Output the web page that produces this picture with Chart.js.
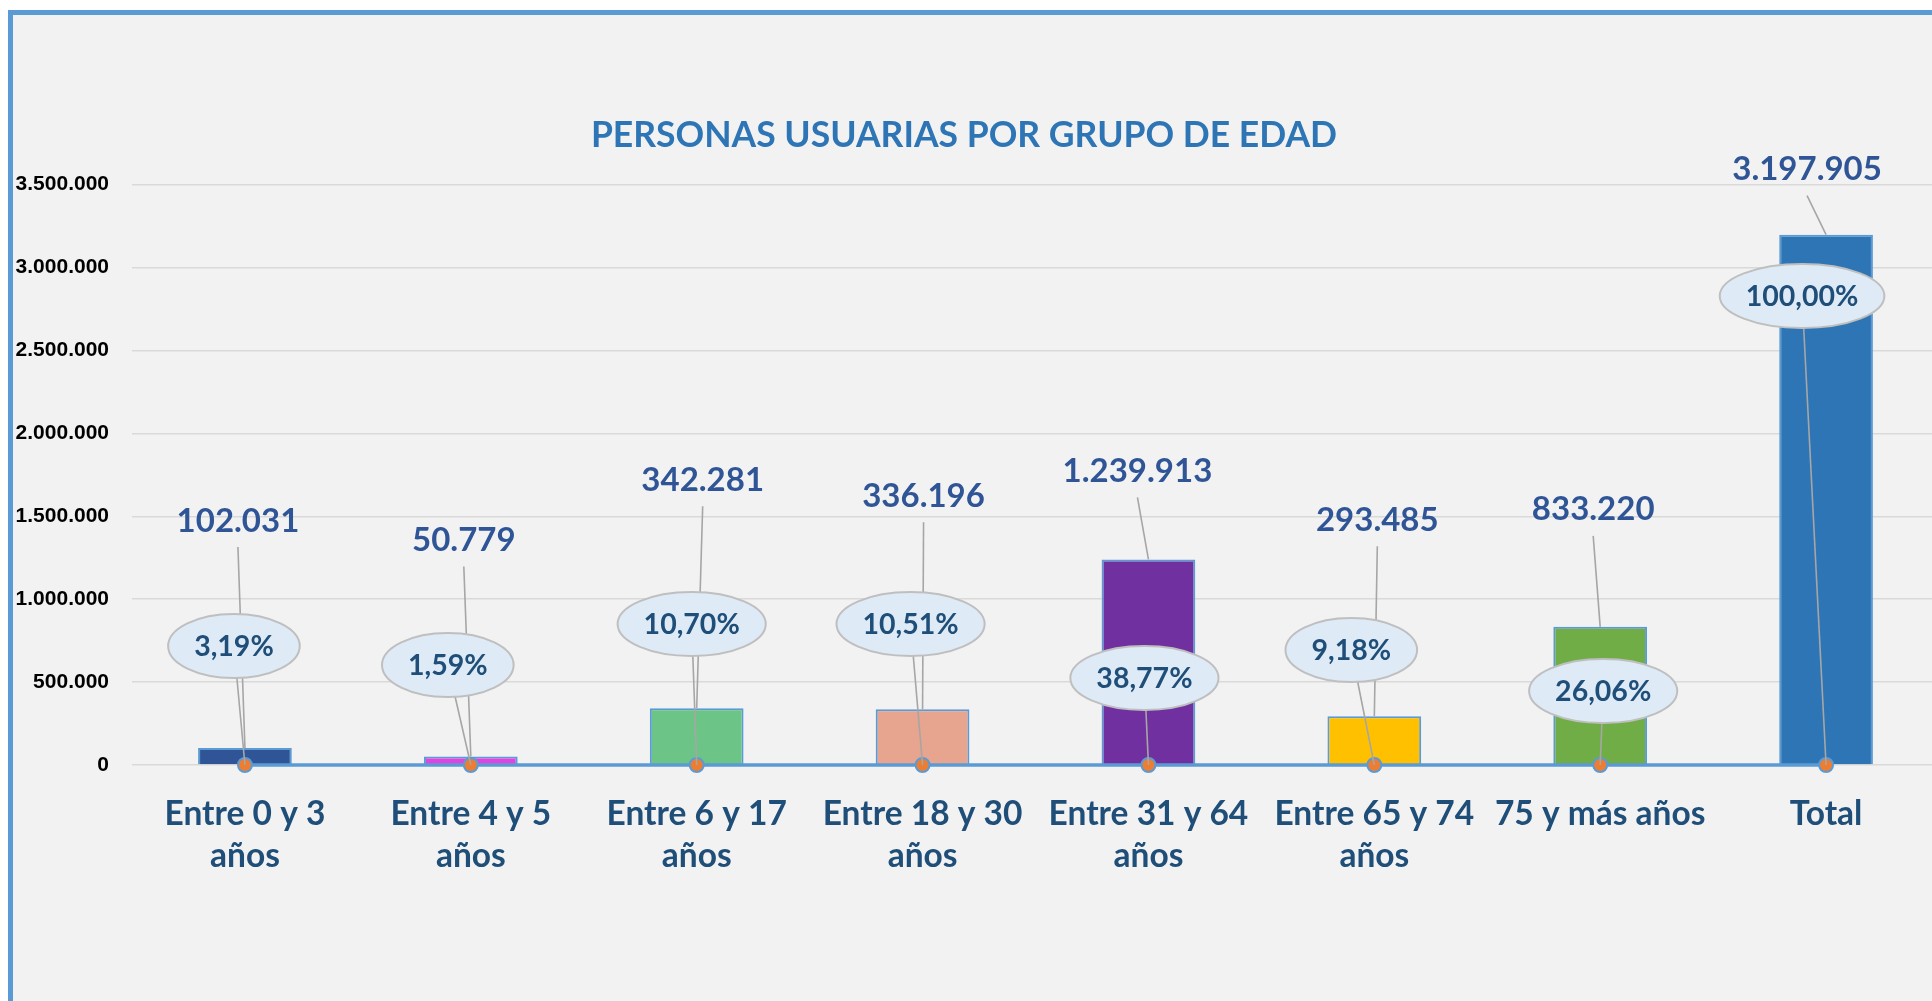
<!DOCTYPE html>
<html lang="es">
<head>
<meta charset="utf-8">
<title>Personas usuarias por grupo de edad</title>
<script src="https://cdn.jsdelivr.net/npm/chart.js@4.4.1/dist/chart.umd.min.js"></script>
<style>
  html, body { margin: 0; padding: 0; background: #FFFFFF; overflow: hidden; width: 1932px; height: 1001px; }
  #frame { position: absolute; left: 8px; top: 10px; width: 1930px; height: 1000px;
           background: #F2F2F2; border-left: 5px solid #5B9BD5; border-top: 5px solid #5B9BD5; }
  #chart { position: absolute; left: 0; top: 0; z-index: 2; }
</style>
</head>
<body>
<div id="frame"></div>
<canvas id="chart" width="1948" height="1001" style="width:1948px;height:1001px;"></canvas>
<script>
// ---- data ----
const categories = [
  ['Entre 0 y 3', 'años'],
  ['Entre 4 y 5', 'años'],
  ['Entre 6 y 17', 'años'],
  ['Entre 18 y 30', 'años'],
  ['Entre 31 y 64', 'años'],
  ['Entre 65 y 74', 'años'],
  '75 y más años',
  'Total'
];
const values = [102031, 50779, 342281, 336196, 1239913, 293485, 833220, 3197905];
const percentages = [3.19, 1.59, 10.70, 10.51, 38.77, 9.18, 26.06, 100.00];
const yTickMax = 3500000;
const yTickStep = 500000;
const chartTitle = 'PERSONAS USUARIAS POR GRUPO DE EDAD';

// ---- styles / label placement ----
const barColors = ['#2F5597', '#E044E0', '#6CC586', '#E7A48E', '#7030A0', '#FFC000', '#70AD47', '#2E75B6'];
// value label offset from bar top-centre (px)
const valueLabelOffset = [[-7,-227],[-7,-216],[6,-228],[1,-213],[-11,-88],[3,-196],[-7,-117],[-19,-65]];
// percentage bubble offset from the line marker (px)
const pctLabelOffset = [[-11,-119],[-23,-100],[-5,-141],[-12,-141],[-4,-87],[-23,-115],[3,-74],[-24,-469]];

function fmtNum(n) { return String(n).replace(/\B(?=(\d{3})+(?!\d))/g, '.'); }
function fmtPct(p) { return p.toFixed(2).replace('.', ',') + '%'; }

const calloutPlugin = {
  id: 'callouts',
  afterDatasetsDraw(chart) {
    const ctx = chart.ctx;
    const bars = chart.getDatasetMeta(0).data;
    const pts = chart.getDatasetMeta(1).data;
    ctx.save();
    ctx.strokeStyle = '#A6A6A6';
    ctx.lineWidth = 1.6;
    // value leaders
    bars.forEach((b, i) => {
      const lx = b.x + valueLabelOffset[i][0], ly = b.y + valueLabelOffset[i][1];
      ctx.beginPath(); ctx.moveTo(lx, ly + 26); ctx.lineTo(b.x, b.y); ctx.stroke();
    });
    // percentage leaders
    pts.forEach((p, i) => {
      const ex = p.x + pctLabelOffset[i][0], ey = p.y + pctLabelOffset[i][1];
      ctx.beginPath(); ctx.moveTo(ex, ey); ctx.lineTo(p.x, p.y); ctx.stroke();
    });
    // bubbles
    ctx.font = 'bold 28.5px Lato';
    ctx.textAlign = 'center';
    ctx.textBaseline = 'middle';
    pts.forEach((p, i) => {
      const txt = fmtPct(percentages[i]);
      const w = ctx.measureText(txt).width;
      const ex = p.x + pctLabelOffset[i][0], ey = p.y + pctLabelOffset[i][1];
      ctx.beginPath();
      ctx.ellipse(ex, ey, w / 2 + 26, 32, 0, 0, Math.PI * 2);
      ctx.fillStyle = '#DEEBF7'; ctx.fill();
      ctx.strokeStyle = '#BFBFBF'; ctx.lineWidth = 2; ctx.stroke();
      ctx.fillStyle = '#1F4E79';
      ctx.fillText(txt, ex, ey + 1);
    });
    // value labels
    ctx.font = 'bold 33px Lato';
    ctx.fillStyle = '#2F5597';
    bars.forEach((b, i) => {
      const lx = b.x + valueLabelOffset[i][0], ly = b.y + valueLabelOffset[i][1];
      ctx.fillText(fmtNum(values[i]), lx, ly);
    });
    ctx.restore();
  }
};

new Chart(document.getElementById('chart').getContext('2d'), {
  type: 'bar',
  data: {
    labels: categories,
    datasets: [
      {
        type: 'bar', label: 'Personas usuarias', data: values,
        backgroundColor: barColors, borderColor: '#5B9BD5', borderWidth: 2,
        categoryPercentage: 1, barPercentage: 0.415, order: 1, clip: false
      },
      {
        type: 'line', label: 'Porcentaje', data: percentages.map(p => p / 100),
        borderColor: '#5B9BD5', borderWidth: 3.5, tension: 0, clip: false,
        pointRadius: 7, pointBackgroundColor: '#ED7D31', pointBorderColor: '#5B9BD5',
        pointBorderWidth: 2, order: 0
      }
    ]
  },
  options: {
    responsive: false, animation: false, devicePixelRatio: 1,
    layout: { padding: { left: -20, right: 0, top: 0, bottom: 0 } },
    plugins: {
      legend: { display: false },
      tooltip: { enabled: false },
      title: {
        display: true, text: chartTitle, color: '#2E75B6',
        font: { family: 'Lato', size: 35.5, weight: 'bold' },
        padding: { top: 114, bottom: 28 }
      }
    },
    scales: {
      x: {
        grid: { display: false, drawTicks: false },
        border: { display: false },
        ticks: {
          color: '#1F4E79', autoSkip: false, maxRotation: 0, padding: 28,
          font: { family: 'Lato', size: 33.5, weight: 'bold', lineHeight: 1.26 }
        },
        afterFit(s) { s.height = 236; }
      },
      y: {
        min: 0, max: yTickMax,
        grid: { color: '#D9D9D9', lineWidth: 1.5, drawTicks: false },
        border: { display: false },
        ticks: {
          stepSize: yTickStep, color: '#000000', padding: 23,
          font: { family: 'Liberation Sans', size: 21, weight: 'bold' },
          callback: v => fmtNum(v)
        },
        afterFit(s) { s.width = 152; }
      }
    }
  },
  plugins: [calloutPlugin]
});
</script>
</body>
</html>
